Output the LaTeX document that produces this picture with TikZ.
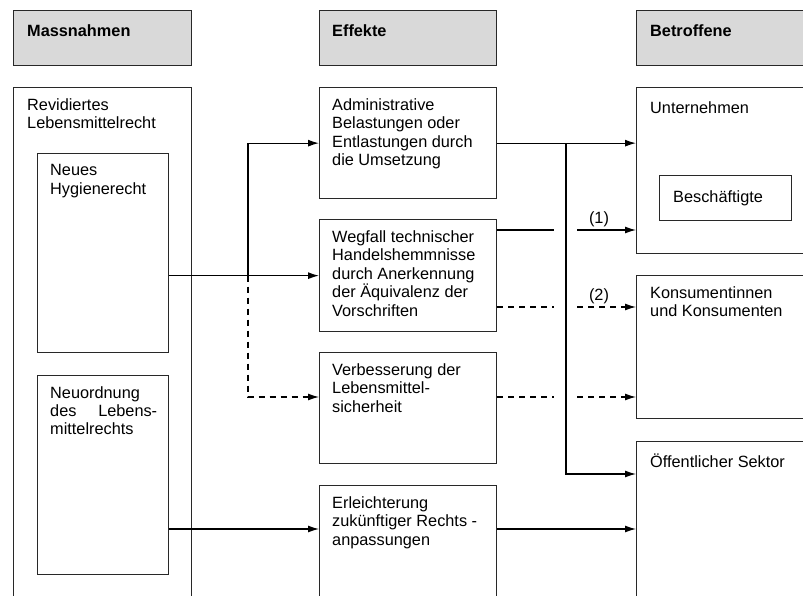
\documentclass[tikz,border=0pt]{standalone}
\usepackage{fontspec}
\setmainfont{Liberation Sans}
\usetikzlibrary{arrows.meta}
\definecolor{hg}{RGB}{217, 217, 217}
\definecolor{bd}{RGB}{40, 40, 40}

\begin{document}
\begin{tikzpicture}[x = 1pt, y = -1pt,
  box/.style = {draw = bd, line width = 1.3pt, anchor = north west, inner sep = 0pt},
  head/.style = {box, fill = hg},
  txt/.style = {anchor = north west, align = left, inner sep = 0pt, font = \fontsize{16.3}{18.4}\selectfont, execute at begin node = \rule{0pt}{15pt}},
  num/.style = {inner sep = 0pt, font = \fontsize{16.3}{18.4}\selectfont},
  wire/.style = {line width = 1.2pt},
  link/.style = {wire, -{Latex[length = 11pt, width = 7pt]}},
  dsh/.style = {dash pattern = on 6pt off 5pt}]
\useasboundingbox (0,0) rectangle (803,596);
\clip (0,0) rectangle (803,596);
\node[head, minimum width = 178, minimum height = 55] (mass) at (13,10) {};
\node[head, minimum width = 177, minimum height = 55] (eff) at (319,10) {};
\node[head, minimum width = 190, minimum height = 55] (betr) at (636,10) {};
\node[txt, font = \fontsize{16.3}{18.4}\selectfont\bfseries] (mass-t) at ([shift = {(14,11.5)}]mass.north west) {Massnahmen};
\node[txt, font = \fontsize{16.3}{18.4}\selectfont\bfseries] (eff-t) at ([shift = {(13,11.5)}]eff.north west) {Effekte};
\node[txt, font = \fontsize{16.3}{18.4}\selectfont\bfseries] (betr-t) at ([shift = {(14,11.5)}]betr.north west) {Betroffene};

\node[box, minimum width = 178, minimum height = 508.5] (rev) at (13,87) {};
\node[box, minimum width = 131, minimum height = 199] (hyg) at (37,153) {};
\node[box, minimum width = 131, minimum height = 199] (neu) at (37,375) {};
\node[txt] (rev-t) at ([shift = {(14,11.5)}]rev.north west) {Revidiertes\\Lebensmittelrecht};
\node[txt] (hyg-t) at ([shift = {(13,11.5)}]hyg.north west) {Neues\\Hygienerecht};
\node[txt] (neu-t) at ([shift = {(13,11)}]neu.north west) {Neuordnung\\\makebox[107pt][s]{des Lebens-}\\mittelrechts};

\node[box, minimum width = 177, minimum height = 111] (adm) at (319,87) {};
\node[box, minimum width = 177, minimum height = 112] (weg) at (319,219) {};
\node[box, minimum width = 177, minimum height = 111] (verb) at (319,352) {};
\node[box, minimum width = 177, minimum height = 110.5] (erl) at (319,485) {};
\node[txt] (adm-t) at ([shift = {(13,11.5)}]adm.north west) {Administrative\\Belastungen oder\\Entlastungen durch\\die Umsetzung};
\node[txt] (weg-t) at ([shift = {(13,11.5)}]weg.north west) {Wegfall technischer\\Handelshemmnisse\\durch Anerkennung\\der Äquivalenz der\\Vorschriften};
\node[txt] (verb-t) at ([shift = {(13,11.5)}]verb.north west) {Verbesserung der\\Lebensmittel-\\sicherheit};
\node[txt] (erl-t) at ([shift = {(13,11.5)}]erl.north west) {Erleichterung\\zukünftiger Rechts -\\anpassungen};

\node[box, minimum width = 180, minimum height = 166] (unt) at (636,87) {};
\node[box, minimum width = 132, minimum height = 45] (besch) at (659,175) {};
\node[box, minimum width = 180, minimum height = 143] (kons) at (636,275) {};
\node[box, minimum width = 180, minimum height = 154.5] (oef) at (636,441) {};
\node[txt] (unt-t) at ([shift = {(14,11.5)}]unt.north west) {Unternehmen};
\node[txt] (besch-t) at ([shift = {(14,12)}]besch.north west) {Beschäftigte};
\node[txt] (kons-t) at ([shift = {(14,11.5)}]kons.north west) {Konsumentinnen\\und Konsumenten};
\node[txt] (oef-t) at ([shift = {(14,11)}]oef.north west) {Öffentlicher Sektor};

\coordinate (j1) at (248,0);
\coordinate (j2) at (566,0);
\coordinate (g1) at (554,0);
\coordinate (g2) at (577,0);
\coordinate (verb-in) at ([shift = {(0,45)}]verb.north west);
\coordinate (erl-in) at ([shift = {(0,44)}]erl.north west);
\coordinate (oef-in) at ([shift = {(0,33)}]oef.north west);
\coordinate (w1) at ([shift = {(0,11)}]weg.north east);
\coordinate (w2) at ([shift = {(0,88)}]weg.north east);

\draw[link] (hyg.east |- weg.west) -- (weg.west);
\draw[link] (j1 |- weg.west) -- (j1 |- adm.west) -- (adm.west);
\draw[link, dsh] (j1 |- weg.west) -- (j1 |- verb-in) -- (verb-in);
\draw[link] (neu.east |- erl-in) -- (erl-in);

\draw[link] (adm.east) -- (adm.east -| unt.west);
\draw[link] (j2 |- adm.east) -- (j2 |- oef-in) -- (oef-in);
\draw[wire] (w1) -- (w1 -| g1);
\draw[link] (w1 -| g2) -- (w1 -| unt.west);
\draw[wire, dsh] (w2) -- (w2 -| g1);
\draw[link, dsh] (w2 -| g2) -- (w2 -| kons.west);
\draw[wire, dsh] (verb.east |- verb-in) -- (g1 |- verb-in);
\draw[link, dsh] (g2 |- verb-in) -- (kons.west |- verb-in);
\draw[link] (erl.east |- erl-in) -- (oef.west |- erl-in);
\node[num] (n1) at (599,219) {(1)};
\node[num] (n2) at (599,296) {(2)};
\end{tikzpicture}
\end{document}
